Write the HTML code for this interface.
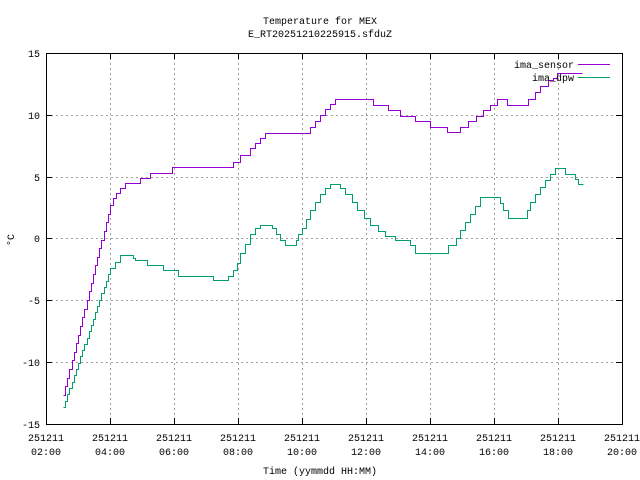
<!DOCTYPE html>
<html><head><meta charset="utf-8"><style>
body{margin:0;background:#fff}
svg{display:block}
text{font-family:"Liberation Mono",monospace;font-size:10px;fill:#000}
</style></head><body>
<svg id="s" width="640" height="480" xmlns="http://www.w3.org/2000/svg" shape-rendering="crispEdges">
<rect width="640" height="480" fill="#fff"/>
<g stroke="#a0a0a0" stroke-dasharray="2,3" stroke-width="1">
<line x1="46" x2="622" y1="115.5" y2="115.5"/><line x1="46" x2="622" y1="177.5" y2="177.5"/>
<line x1="46" x2="622" y1="238.5" y2="238.5"/><line x1="46" x2="622" y1="300.5" y2="300.5"/>
<line x1="46" x2="622" y1="362.5" y2="362.5"/>
<line x1="110.5" x2="110.5" y1="53" y2="424"/><line x1="174.5" x2="174.5" y1="53" y2="424"/>
<line x1="238.5" x2="238.5" y1="53" y2="424"/><line x1="302.5" x2="302.5" y1="53" y2="424"/>
<line x1="366.5" x2="366.5" y1="53" y2="424"/><line x1="430.5" x2="430.5" y1="53" y2="424"/>
<line x1="494.5" x2="494.5" y1="53" y2="424"/><line x1="558.5" x2="558.5" y1="53" y2="424"/>
</g>
<rect x="46.5" y="53.5" width="576" height="371" fill="none" stroke="#000"/>
<g stroke="#000">
<path d="M46 115.5h6M46 177.5h6M46 238.5h6M46 300.5h6M46 362.5h6M616 115.5h6M616 177.5h6M616 238.5h6M616 300.5h6M616 362.5h6"/>
<path d="M110.5 424v-6M174.5 424v-6M238.5 424v-6M302.5 424v-6M366.5 424v-6M430.5 424v-6M494.5 424v-6M558.5 424v-6M110.5 53v6M174.5 53v6M238.5 53v6M302.5 53v6M366.5 53v6M430.5 53v6M494.5 53v6M558.5 53v6"/>
</g>
<g text-anchor="end">
<text x="40" y="57">15</text><text x="40" y="119">10</text><text x="40" y="181">5</text>
<text x="40" y="242">0</text><text x="40" y="304">-5</text><text x="40" y="366">-10</text><text x="40" y="428">-15</text>
</g>
<g text-anchor="middle" id="xl"></g>
<text x="320" y="24" text-anchor="middle">Temperature for MEX</text>
<text x="320" y="37" text-anchor="middle">E_RT20251210225915.sfduZ</text>
<text x="320" y="474" text-anchor="middle">Time (yymmdd HH:MM)</text>
<text x="14" y="240" text-anchor="middle" transform="rotate(-90 14 240)">°C</text>
<path id="dew" fill="none" stroke="#009e73" stroke-width="1"/>
<path id="sen" fill="none" stroke="#9400d3" stroke-width="1"/>
<text x="574" y="68" text-anchor="end">ima_sensor</text>
<line x1="578" x2="610" y1="64.5" y2="64.5" stroke="#9400d3"/>
<text x="574" y="81" text-anchor="end">ima_dpw</text>
<line x1="578" x2="610" y1="77.5" y2="77.5" stroke="#009e73"/>
</svg>
<script>
var xl=document.getElementById('xl'),h='';
for(var i=0;i<10;i++){var x=46+64*i,hh=2+2*i;h+='<text x="'+x+'" y="441">251211</text><text x="'+x+'" y="455">'+(hh<10?'0':'')+hh+':00</text>';}
xl.innerHTML=h;
function step(p){var d='M'+p[0][0]+' '+p[0][1];for(var i=1;i<p.length;i++){d+='V'+p[i-1][1]+'H'+p[i][0]+'V'+p[i][1];}return d;}
function ramp(x0,y0,x1,y1,n){var a=[];for(var i=0;i<=n;i++)a.push([Math.round(x0+(x1-x0)*i/n)+0.5,Math.round(y0+(y1-y0)*i/n)+0.5]);return a;}
function fix(a){return a.map(function(p){return [Math.round(p[0])+0.5,Math.round(p[1])+0.5];});}
var sen=ramp(63,395,110,205,22).concat(fix([[113,198],[116,193],[120,188],[125,183],[130,183],[140,178],[150,173],[172,167],[233,162],[240,155],[250,148],[255,143],[260,138],[265,133],[306,133],[310,127],[315,121],[320,115],[325,109],[330,104],[335,99],[370,99],[373,105],[388,110],[400,116],[415,121],[430,127],[447,132],[460,127],[468,121],[476,116],[483,110],[490,105],[497,99],[507,105],[528,99],[535,92],[540,86],[548,80],[553,78],[557,73],[567,73],[582,73]]));
var dew=ramp(63,407,110,268,22).concat(fix([[115,262],[120,255],[133,258],[135,260],[147,265],[163,270],[178,276],[213,280],[228,276],[233,270],[237,263],[240,253],[245,244],[250,234],[255,228],[260,225],[272,228],[276,234],[280,240],[285,245],[296,240],[298,234],[302,228],[306,219],[310,210],[315,202],[320,194],[325,188],[330,184],[340,188],[345,194],[352,202],[357,210],[364,218],[370,225],[378,231],[385,236],[395,240],[410,245],[415,253],[448,245],[456,238],[460,230],[465,222],[470,214],[475,206],[480,197],[486,197],[500,203],[503,210],[508,218],[513,218],[527,210],[530,202],[535,194],[540,187],[545,180],[550,174],[555,168],[558,168],[565,174],[575,179],[578,184],[583,184]]));
document.getElementById('sen').setAttribute('d',step(sen));
document.getElementById('dew').setAttribute('d',step(dew));
</script>
</body></html>
